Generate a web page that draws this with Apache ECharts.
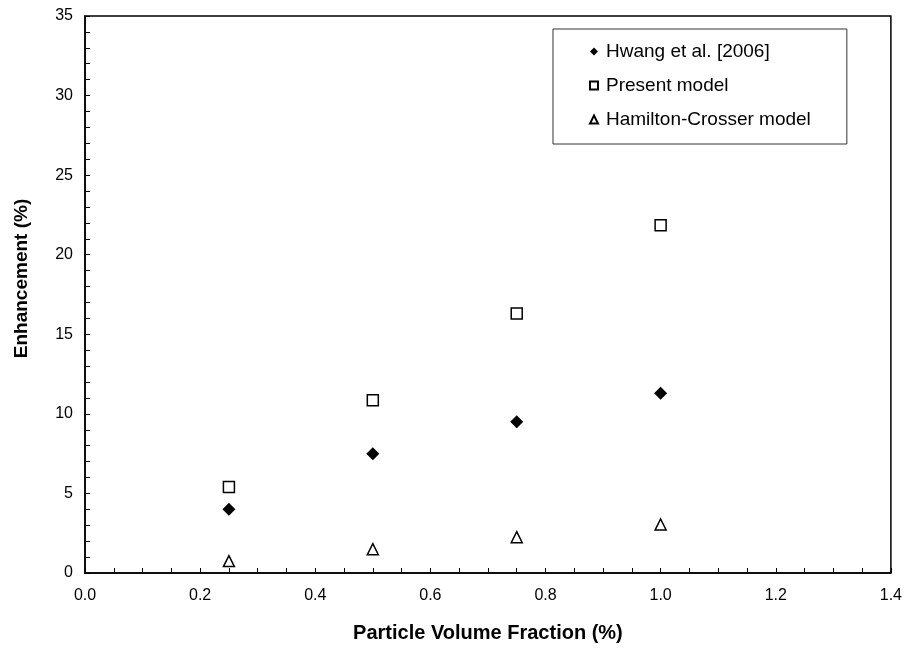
<!DOCTYPE html>
<html><head><meta charset="utf-8">
<script src="https://cdn.jsdelivr.net/npm/echarts@6/dist/echarts.min.js"></script>
<style>html,body{margin:0;padding:0;background:#fff}#c{width:905px;height:648px}</style>
</head><body><div id="c"></div>
<script>
const xValues = [0.25, 0.5, 0.75, 1.0];
const hwang = [4.0, 7.5, 9.5, 11.3];
const present = [5.4, 10.85, 16.3, 21.85];
const hamilton = [0.75, 1.5, 2.25, 3.05];
const seriesNames = ['Hwang et al. [2006]', 'Present model', 'Hamilton-Crosser model'];

const pairs = arr => xValues.map((x, i) => [x, arr[i]]);
const font = 'Liberation Sans, Arial, Helvetica, sans-serif';
const chart = echarts.init(document.getElementById('c'));
chart.setOption({
  animation: false,
  backgroundColor: '#fff',
  grid: { left: 85, right: 12, top: 16, bottom: 71, show: true, borderColor: '#000', borderWidth: 1.5, backgroundColor: 'transparent' },
  xAxis: {
    type: 'value', min: 0, max: 1.4, interval: 0.2,
    name: 'Particle Volume Fraction (%)', nameLocation: 'middle', nameGap: 50,
    nameTextStyle: { fontFamily: font, fontSize: 20, fontWeight: 'bold', color: '#000' },
    axisLine: { lineStyle: { color: '#000', width: 1.5 } },
    axisTick: { inside: true, length: 5, lineStyle: { color: '#000' } },
    minorTick: { show: true, splitNumber: 4, length: 5, lineStyle: { color: '#000' } },
    splitLine: { show: false },
    axisLabel: { fontFamily: font, fontSize: 16, color: '#000', margin: 15, formatter: v => v.toFixed(1) }
  },
  yAxis: {
    type: 'value', min: 0, max: 35, interval: 5,
    name: 'Enhancement (%)', nameLocation: 'middle', nameGap: 54,
    nameTextStyle: { fontFamily: font, fontSize: 19, fontWeight: 'bold', color: '#000', padding: [0, 0, 0, 32] },
    axisLine: { lineStyle: { color: '#000', width: 1.5 } },
    axisTick: { inside: true, length: 5, lineStyle: { color: '#000' } },
    minorTick: { show: true, splitNumber: 5, length: 5, lineStyle: { color: '#000' } },
    splitLine: { show: false },
    axisLabel: { fontFamily: font, fontSize: 16, color: '#000', margin: 12 }
  },
  legend: {
    orient: 'vertical', left: 553, top: 29,
    borderColor: '#333', borderWidth: 1,
    padding: [13, 36, 15, 36],
    itemGap: 15, itemWidth: 8, itemHeight: 8,
    textStyle: { fontFamily: font, fontSize: 19, color: '#000', padding: [0, 0, 0, 3] },
    data: seriesNames
  },
  series: [
    { name: seriesNames[0], type: 'scatter', data: pairs(hwang), symbol: 'diamond', symbolSize: 13,
      itemStyle: { color: '#000', opacity: 1 } },
    { name: seriesNames[1], type: 'scatter', data: pairs(present), symbol: 'rect', symbolSize: 11,
      itemStyle: { color: '#fff', borderColor: '#000', borderWidth: 1.5, opacity: 1 } },
    { name: seriesNames[2], type: 'scatter', data: pairs(hamilton), symbol: 'triangle', symbolSize: 11,
      itemStyle: { color: '#fff', borderColor: '#000', borderWidth: 1.5, opacity: 1 } }
  ]
});
</script></body></html>
